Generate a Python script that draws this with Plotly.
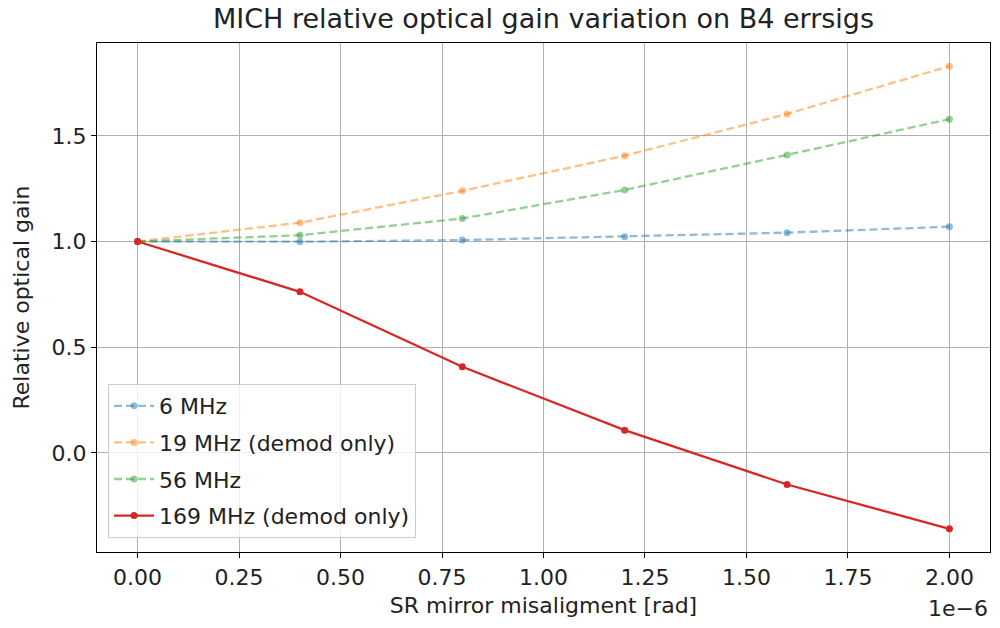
import plotly.graph_objects as go

misalignment_rad = [0.0, 0.4e-6, 0.8e-6, 1.2e-6, 1.6e-6, 2.0e-6]
gain_6MHz = [1.0, 0.999, 1.007, 1.023, 1.042, 1.070]
gain_19MHz = [1.0, 1.089, 1.240, 1.406, 1.604, 1.830]
gain_56MHz = [1.0, 1.030, 1.109, 1.244, 1.410, 1.579]
gain_169MHz = [1.0, 0.762, 0.407, 0.107, -0.150, -0.360]
series_names = ["6 MHz", "19 MHz (demod only)", "56 MHz", "169 MHz (demod only)"]
x_tick_labels = ["0.00", "0.25", "0.50", "0.75", "1.00", "1.25", "1.50", "1.75", "2.00"]
y_tick_labels = ["0.0", "0.5", "1.0", "1.5"]

FONT = "DejaVu Sans"
FS = 22
fig = go.Figure()
styles = [
    ("rgba(31,119,180,0.5)", "dash"),
    ("rgba(255,127,14,0.5)", "dash"),
    ("rgba(44,160,44,0.5)", "dash"),
    ("rgba(214,39,40,1)", "solid"),
]
for i, (vals, name) in enumerate(zip([gain_6MHz, gain_19MHz, gain_56MHz, gain_169MHz], series_names)):
    col, dash = styles[i]
    fig.add_trace(go.Scatter(
        x=misalignment_rad, y=vals, name=name, mode="lines+markers",
        line=dict(color=col, width=2.3, dash="8px,4px" if dash == "dash" else "solid"),
        marker=dict(color=col, size=7),
        legendgroup=f"g{i}",
    ))

allv = gain_6MHz + gain_19MHz + gain_56MHz + gain_169MHz
ymin, ymax = min(allv), max(allv)
ypad = 0.05 * (ymax - ymin)
xmin, xmax = min(misalignment_rad), max(misalignment_rad)
xpad = 0.05 * (xmax - xmin)

axis_common = dict(
    showgrid=True, gridcolor="#b0b0b0", gridwidth=1.1,
    showline=True, linecolor="black", linewidth=1.2, mirror=True,
    ticks="outside", ticklen=5, tickcolor="black", tickwidth=1.1,
    zeroline=False, tickfont=dict(family=FONT, size=FS, color="#222"),
)

fig.update_layout(
    width=1000, height=628,
    paper_bgcolor="white", plot_bgcolor="white",
    margin=dict(l=97, r=10, t=43, b=76),
    font=dict(family=FONT, size=FS, color="#222"),
    title=dict(text="MICH relative optical gain variation on B4 errsigs",
               x=(97 + 990) / 2 / 1000, xanchor="center", y=1 - 19 / 628, yanchor="middle",
               font=dict(family=FONT, size=27, color="#222")),
    xaxis=dict(
        range=[xmin - xpad, xmax + xpad],
        tickvals=[float(t) * 1e-6 for t in x_tick_labels], ticktext=x_tick_labels,
        title=dict(text="SR mirror misaligment [rad]", font=dict(family=FONT, size=FS, color="#222"), standoff=9),
        **axis_common,
    ),
    yaxis=dict(
        range=[ymin - ypad, ymax + ypad],
        tickvals=[float(t) for t in y_tick_labels], ticktext=y_tick_labels,
        title=dict(text="Relative optical gain", font=dict(family=FONT, size=FS, color="#222"), standoff=15),
        **axis_common,
    ),
    legend=dict(
        x=11 / 893, y=14 / 509, xanchor="left", yanchor="bottom",
        bgcolor="rgba(255,255,255,0.8)", bordercolor="#cccccc", borderwidth=1,
        font=dict(family=FONT, size=FS, color="#222"),
        traceorder="grouped", tracegroupgap=5, itemwidth=40,
    ),
    showlegend=True,
)
fig.add_annotation(text="1e\u22126", xref="paper", yref="paper", x=1, y=-(608 - 552) / 509,
                   xanchor="right", yanchor="middle", showarrow=False,
                   font=dict(family=FONT, size=FS, color="#222"))

fig.write_html("out.html")
